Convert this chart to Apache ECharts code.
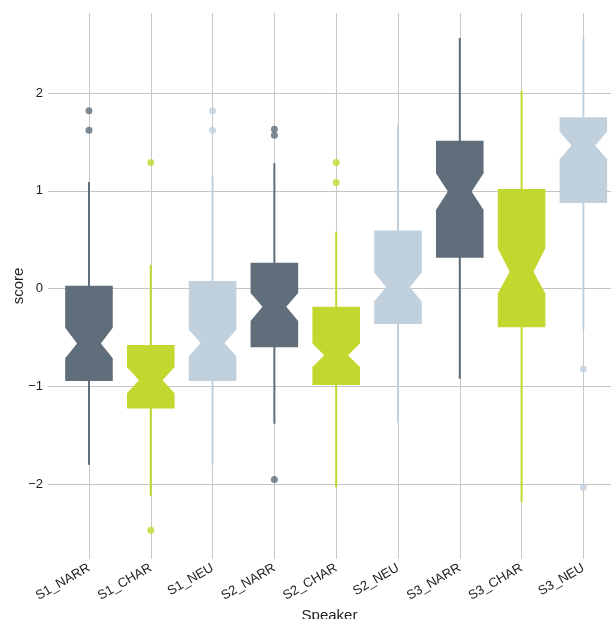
<!DOCTYPE html>
<html>
<head>
<meta charset="utf-8">
<script src="https://cdn.jsdelivr.net/npm/echarts@6/dist/echarts.min.js"></script>
<style>
  html, body { margin: 0; padding: 0; background: #fff; }
  #chart { width: 611px; height: 619px; }
</style>
</head>
<body>
<div id="chart"></div>
<script>
// speaker / condition groups
const categories = ["S1_NARR", "S1_CHAR", "S1_NEU", "S2_NARR", "S2_CHAR", "S2_NEU", "S3_NARR", "S3_CHAR", "S3_NEU"];

// box stats
const whiskerLow  = [-1.80, -2.12, -1.80, -1.38, -2.03, -1.37, -0.92, -2.18, -0.42];
const q1          = [-0.945, -1.225, -0.945, -0.60, -0.986, -0.36, 0.317, -0.395, 0.877];
const notchLow    = [-0.71, -1.07, -0.69, -0.33, -0.80, -0.13, 0.805, -0.05, 1.324];
const median      = [-0.56, -0.935, -0.555, -0.185, -0.68, 0.015, 0.993, 0.174, 1.464];
const notchHigh   = [-0.40, -0.80, -0.42, -0.045, -0.56, 0.165, 1.18, 0.413, 1.607];
const q3          = [0.03, -0.576, 0.079, 0.266, -0.184, 0.594, 1.512, 1.02, 1.754];
const whiskerHigh = [1.09, 0.243, 1.15, 1.283, 0.583, 1.676, 2.563, 2.024, 2.563];
const outliers = [
  [1.82, 1.62],
  [1.29, -2.47],
  [1.82, 1.62],
  [1.63, 1.57, -1.95],
  [1.29, 1.085],
  [],
  [],
  [],
  [-0.82, -2.03]
];
const yTicks = [-2, -1, 0, 1, 2];

const palette = ["#5f6e7a", "#c2d82e", "#c0d0dd"];
const colorOf = (x) => palette[(Math.round(x) - 1) % 3];

const boxData = categories.map((c, i) => [
  i + 1, whiskerLow[i], q1[i], notchLow[i], median[i], notchHigh[i], q3[i], whiskerHigh[i]
]);

let pointData = [];
outliers.forEach((list, i) => {
  list.forEach((v) => pointData.push([i + 1, v]));
});

const fmtNum = (v) => (v < 0 ? "\u2212" + Math.abs(v) : String(v));

const renderBox = (params, api) => {
  const x = api.value(0);
  const cx = api.coord([x, 0])[0];
  const py = (idx) => api.coord([x, api.value(idx)])[1];
  const half = api.size([1, 0])[0] * 0.385;
  const nh = half * 0.5;
  const yLow = py(1), yQ1 = py(2), yNL = py(3), yMed = py(4), yNH = py(5), yQ3 = py(6), yHigh = py(7);
  const color = colorOf(x);
  return {
    type: "group",
    children: [
      {
        type: "line",
        shape: { x1: cx, y1: yLow, x2: cx, y2: yHigh },
        style: { stroke: color, lineWidth: 2 }
      },
      {
        type: "polygon",
        shape: {
          points: [
            [cx - half, yQ3], [cx + half, yQ3], [cx + half, yNH], [cx + nh, yMed],
            [cx + half, yNL], [cx + half, yQ1], [cx - half, yQ1], [cx - half, yNL],
            [cx - nh, yMed], [cx - half, yNH]
          ]
        },
        style: { fill: color }
      }
    ]
  };
};

const myChart = echarts.init(document.getElementById("chart"));

const option = {
  animation: false,
  textStyle: { fontFamily: "Liberation Sans, Arial, sans-serif" },
  grid: { left: 48, right: 0, top: 13, bottom: 60, containLabel: false, outerBoundsMode: "none" },
  xAxis: {
    type: "value",
    min: 0.337,
    max: 9.447,
    splitNumber: 9,
    minInterval: 1,
    maxInterval: 1,
    name: "Speaker",
    nameLocation: "middle",
    nameGap: 49,
    nameMoveOverlap: false,
    nameTextStyle: { fontSize: 15, color: "#222" },
    axisLine: { show: false },
    axisTick: { show: false },
    axisLabel: {
      rotate: 30,
      fontSize: 13,
      color: "#222",
      margin: 8,
      showMinLabel: false,
      showMaxLabel: false,
      formatter: (v) => (Number.isInteger(v) && v >= 1 && v <= categories.length ? categories[v - 1] : "")
    },
    splitLine: {
      show: true,
      showMinLine: false,
      showMaxLine: false,
      lineStyle: { color: "#c8c8c8", width: 1 }
    }
  },
  yAxis: {
    type: "value",
    min: -2.764,
    max: 2.819,
    splitNumber: 5,
    minInterval: 1,
    maxInterval: 1,
    name: "score",
    nameLocation: "middle",
    nameGap: 22,
    nameMoveOverlap: false,
    nameTextStyle: { fontSize: 15, color: "#222" },
    axisLine: { show: false },
    axisTick: { show: false },
    axisLabel: {
      fontSize: 13,
      color: "#222",
      margin: 5,
      showMinLabel: false,
      showMaxLabel: false,
      formatter: (v) => (yTicks.includes(v) ? fmtNum(v) : "")
    },
    splitLine: {
      show: true,
      showMinLine: false,
      showMaxLine: false,
      lineStyle: { color: "#c4c4c4", width: 1 }
    }
  },
  series: [
    {
      type: "custom",
      renderItem: renderBox,
      data: boxData,
      encode: { x: 0, y: [1, 2, 3, 4, 5, 6, 7] },
      z: 2
    },
    {
      type: "scatter",
      data: pointData,
      symbolSize: 7,
      itemStyle: { color: (p) => colorOf(p.value[0]) },
      z: 3
    }
  ]
};
myChart.setOption(option);
</script>
</body>
</html>
